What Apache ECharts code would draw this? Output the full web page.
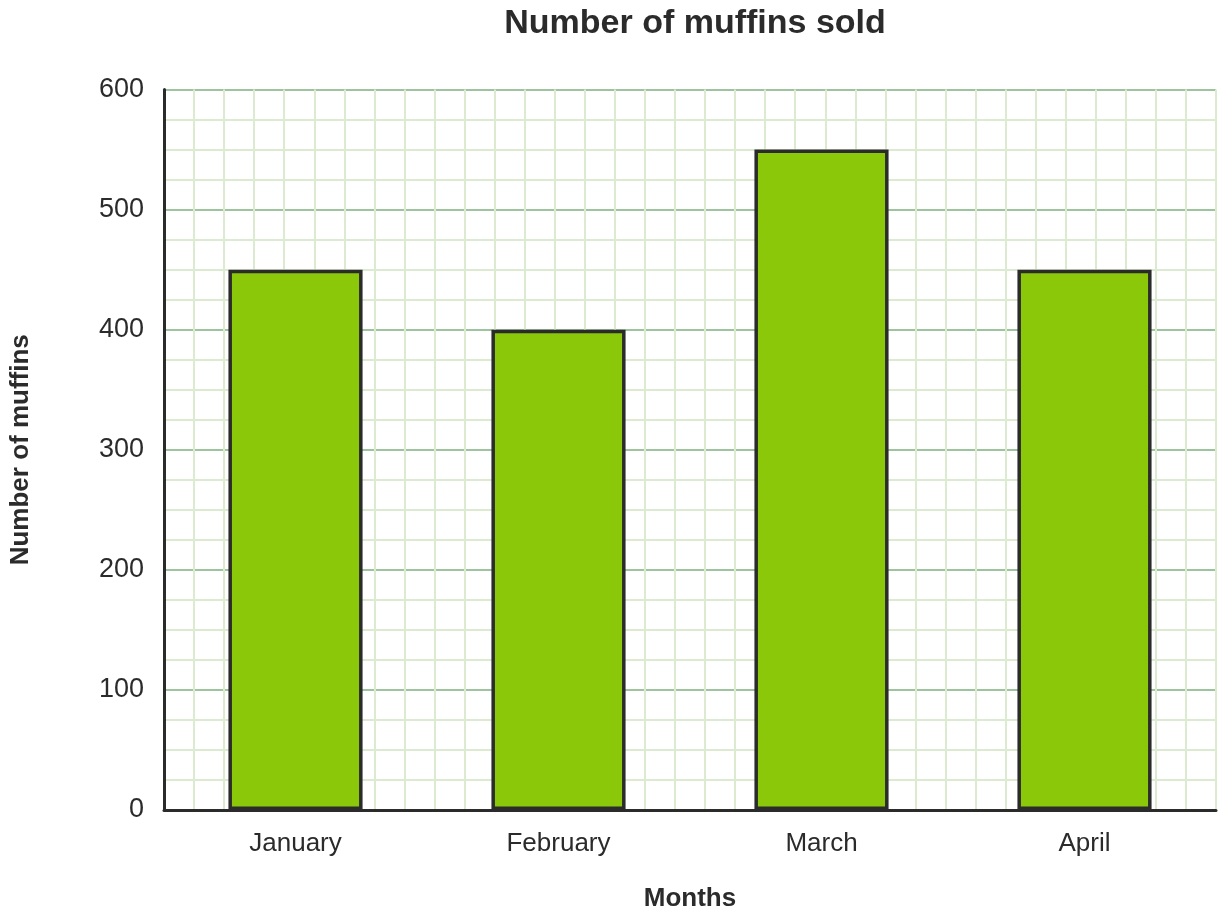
<!DOCTYPE html>
<html>
<head>
<meta charset="utf-8">
<script src="https://cdn.jsdelivr.net/npm/echarts@6/dist/echarts.min.js"></script>
<style>html,body{margin:0;padding:0;background:#fff;}#c{width:1224px;height:917px;}</style>
</head>
<body>
<div id="c"></div>
<script>
const categories = ['January', 'February', 'March', 'April'];
const muffins = [450, 400, 550, 450];
const yTicks = [0, 100, 200, 300, 400, 500, 600];

const chart = echarts.init(document.getElementById('c'));
const font = '"Liberation Sans", Arial, sans-serif';
chart.setOption({
  animation: false,
  title: {
    text: 'Number of muffins sold',
    left: 690, top: 2, textAlign: 'center',
    textStyle: { fontFamily: font, fontSize: 34, fontWeight: 'bold', color: '#2b2b2b' }
  },
  grid: { left: 164, right: 8, top: 89.5, bottom: 103.5, containLabel: false },
  xAxis: [{
    type: 'category',
    data: categories,
    name: 'Months',
    nameLocation: 'middle',
    nameGap: 76,
    nameTextStyle: { fontFamily: font, fontSize: 26, fontWeight: 'bold', color: '#2b2b2b' },
    axisLine: { lineStyle: { color: '#2b2b2b', width: 3 } },
    axisTick: { show: false },
    axisLabel: { fontFamily: font, fontSize: 26, color: '#2b2b2b', margin: 21 },
    splitLine: { show: false },
    z: 5
  }, {
    type: 'value',
    min: 0, max: 35, interval: 1,
    show: true,
    position: 'top',
    axisLine: { show: false },
    axisTick: { show: false },
    axisLabel: { show: false },
    splitLine: { show: true, lineStyle: { color: '#dcebcf', width: 2 } }
  }],
  yAxis: {
    type: 'value',
    min: yTicks[0], max: yTicks[yTicks.length - 1], interval: 100,
    name: 'Number of muffins',
    nameLocation: 'middle',
    nameGap: 130,
    nameTextStyle: { fontFamily: font, fontSize: 26, fontWeight: 'bold', color: '#2b2b2b' },
    axisLine: { show: true, lineStyle: { color: '#2b2b2b', width: 3 } },
    axisTick: { show: false },
    axisLabel: { fontFamily: font, fontSize: 27, color: '#2b2b2b', margin: 20 },
    splitLine: { show: true, lineStyle: { color: '#9dc49d', width: 2 } },
    minorTick: { show: false, splitNumber: 4 },
    minorSplitLine: { show: true, lineStyle: { color: '#dcebcf', width: 2 } }
  },
  series: [{
    type: 'bar',
    xAxisIndex: 0,
    data: muffins,
    barWidth: '51%',
    itemStyle: { color: '#8bc80a', borderColor: '#2b2b2b', borderWidth: 3.5 },
    z: 3
  }]
});
</script>
</body>
</html>
